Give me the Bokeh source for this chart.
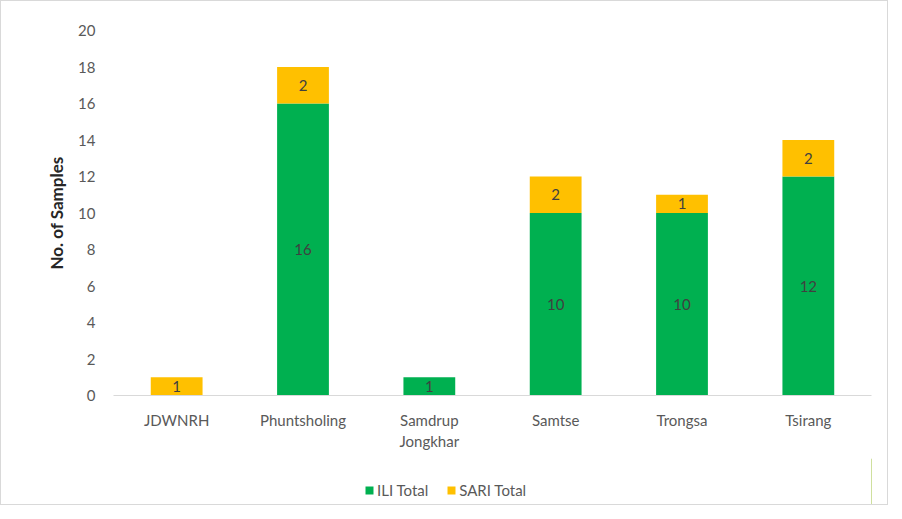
from bokeh.plotting import figure
from bokeh.models import ColumnDataSource, Legend, LegendItem, Column
from bokeh.core.properties import value
from bokeh.embed import file_html
from bokeh.resources import INLINE

categories = ["JDWNRH", "Phuntsholing", "Samdrup\nJongkhar", "Samtse", "Trongsa", "Tsirang"]
ili_total = [0, 16, 1, 10, 10, 12]
sari_total = [1, 2, 0, 2, 1, 2]
y_ticks = list(range(0, 21, 2))
series_names = ["ILI Total", "SARI Total"]

FONT = "Lato"
GREEN = "#00B050"
YELLOW = "#FFC000"

src = ColumnDataSource(dict(cat=categories, ili=ili_total, sari=sari_total))

p = figure(x_range=categories, y_range=(0, 20), width=886, height=457,
           output_backend="svg", toolbar_location=None,
           min_border_left=112, min_border_right=16, min_border_top=29, min_border_bottom=63)

r = p.vbar_stack(["ili", "sari"], x="cat", width=0.41, color=[GREEN, YELLOW],
                 line_color=None, source=src)

# segment labels
lx, ly, lt = [], [], []
for c, a, b in zip(categories, ili_total, sari_total):
    if a > 0:
        lx.append(c); ly.append(a / 2); lt.append(str(a))
    if b > 0:
        lx.append(c); ly.append(a + b / 2); lt.append(str(b))
p.text(x=lx, y=ly, text=lt, text_align="center", text_baseline="middle",
       text_font=value(FONT), text_font_size="15px", text_color="#404040")

p.outline_line_color = None
p.xgrid.grid_line_color = None
p.ygrid.grid_line_color = None

p.yaxis.ticker = y_ticks
p.yaxis.axis_line_color = None
p.yaxis.major_tick_line_color = None
p.yaxis.minor_tick_line_color = None
p.yaxis.major_label_text_font = FONT
p.yaxis.major_label_text_font_size = "15px"
p.yaxis.major_label_text_color = "#595959"
p.yaxis.major_label_standoff = 12
p.yaxis.axis_label = "No. of Samples"
p.yaxis.axis_label_text_font = FONT
p.yaxis.axis_label_text_font_size = "17px"
p.yaxis.axis_label_text_font_style = "bold"
p.yaxis.axis_label_text_color = "#262626"
p.yaxis.axis_label_standoff = 8

p.xaxis.axis_line_color = "#d9d9d9"
p.xaxis.major_tick_line_color = None
p.xaxis.minor_tick_line_color = None
p.xaxis.major_label_text_font = FONT
p.xaxis.major_label_text_font_size = "15px"
p.xaxis.major_label_text_color = "#595959"
p.xaxis.major_label_standoff = 9

# legend strip below the chart (swatch renderers sit outside the visible range)
lg = figure(width=886, height=46, output_backend="svg", toolbar_location=None,
            x_axis_type=None, y_axis_type=None, x_range=(0, 1), y_range=(0, 1),
            min_border=0, outline_line_color=None)
lg.xgrid.grid_line_color = None
lg.ygrid.grid_line_color = None
swatch_ili = lg.vbar(x=[5], top=[1], width=0.1, color=GREEN, line_color=None)
swatch_sari = lg.vbar(x=[5], top=[1], width=0.1, color=YELLOW, line_color=None)
legend = Legend(items=[LegendItem(label=series_names[0], renderers=[swatch_ili]),
                       LegendItem(label=series_names[1], renderers=[swatch_sari])],
                orientation="horizontal", location=(251, 5),
                label_text_font=FONT, label_text_font_size="15px",
                label_text_color="#595959", glyph_width=10, glyph_height=10,
                label_standoff=3, spacing=18, border_line_color=None,
                background_fill_alpha=0, padding=0, margin=0)
lg.add_layout(legend)

layout = Column(p, lg, styles={"border": "1px solid #d9d9d9"})

open("out.html", "w").write(file_html(layout, INLINE))
